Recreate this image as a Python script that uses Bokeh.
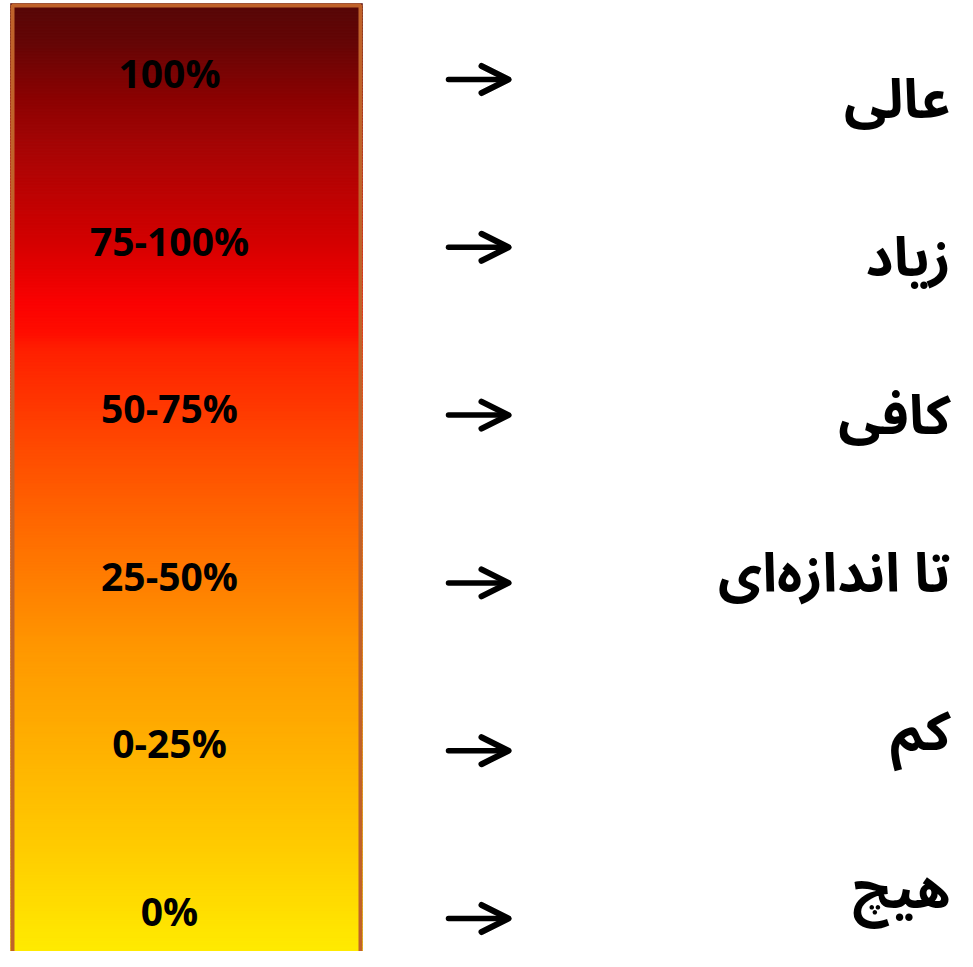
import numpy as np
from bokeh.plotting import figure
from bokeh.models import Range1d, ColumnDataSource, Arrow, OpenHead
from bokeh.core.properties import value
from bokeh.embed import file_html
from bokeh.resources import INLINE

# ---- data ----
levels = ["100%", "75-100%", "50-75%", "25-50%", "0-25%", "0%"]
labels_fa = ["عالی", "زیاد", "کافی", "تا اندازه‌ای", "کم", "هیچ"]
rows = list(range(len(levels)))

# gradient colour stops (fraction from top, colour) - style only
stops = [(0.00, "#560707"), (0.04, "#650606"), (0.10, "#8c0202"), (0.15, "#a60505"),
         (0.25, "#d50000"), (0.31, "#fa0202"), (0.34, "#ff0c00"), (0.36, "#ff2000"),
         (0.46, "#ff4a00"), (0.56, "#ff7000"), (0.67, "#ff9800"), (0.77, "#ffb000"),
         (0.88, "#ffcd00"), (1.00, "#fff000")]

W, H = 957, 951

def hex2rgb(h):
    return np.array([int(h[i:i + 2], 16) for i in (1, 3, 5)], dtype=float)

def color_at(t):
    for (t0, c0), (t1, c1) in zip(stops[:-1], stops[1:]):
        if t <= t1:
            f = (t - t0) / (t1 - t0) if t1 > t0 else 0
            c = hex2rgb(c0) * (1 - f) + hex2rgb(c1) * f
            return "#%02x%02x%02x" % tuple(int(round(v)) for v in c)
    return stops[-1][1]

def row_range(a, b):
    # screen y = a + b*i
    return Range1d(start=(H - a) / b, end=(0 - a) / b)

p = figure(width=W, height=H, output_backend="svg", toolbar_location=None,
           x_range=Range1d(0, W), y_range=row_range(79, 167.8),
           min_border=0, outline_line_color=None)
p.extra_y_ranges = {"px": Range1d(start=H, end=0),
                    "pct": row_range(72.0, 167.5),
                    "fa": row_range(100.0, 158.0)}
p.axis.visible = False
p.grid.visible = False
p.background_fill_color = "white"
p.border_fill_color = "white"

# gradient bar
bar_l, bar_r, bar_t, bar_b = 10, 362, 3, 968
n = 320
edges = np.linspace(bar_t, bar_b, n + 1)
cols = [color_at((i + 0.5) / n) for i in range(n)]
p.quad(left=bar_l, right=bar_r, top=edges[:-1], bottom=edges[1:] + 1.5,
       fill_color=cols, line_color=cols, line_width=0.5, y_range_name="px")
p.quad(left=bar_l + 2, right=bar_r - 2, top=bar_t + 2, bottom=bar_b, fill_color=None,
       line_color="#c0622a", line_width=4, y_range_name="px")

src = ColumnDataSource(dict(row=rows, level=levels, fa=labels_fa,
                            xs=[448] * len(rows), xe=[508] * len(rows),
                            xp=[169] * len(rows), xf=[950] * len(rows)))

# percentage labels
p.text(x="xp", y="row", text="level", source=src, y_range_name="pct",
       text_align="center", text_baseline="middle",
       text_font=value("Open Sans"), text_font_style="bold",
       text_font_size="39px", text_color="black")

# arrows
p.add_layout(Arrow(x_start="xs", y_start="row", x_end="xe", y_end="row", source=src,
                   line_width=5.5, line_color="black", line_cap="round",
                   end=OpenHead(size=27, line_width=6, line_color="black",
                                line_cap="round", line_join="round")))

# persian labels
p.text(x="xf", y="row", text="fa", source=src, y_range_name="fa",
       text_align="right", text_baseline="alphabetic",
       text_font=value("Noto Sans Arabic"), text_font_style="bold",
       text_font_size="54px", text_color="black")

open("out.html", "w").write(file_html(p, INLINE))
